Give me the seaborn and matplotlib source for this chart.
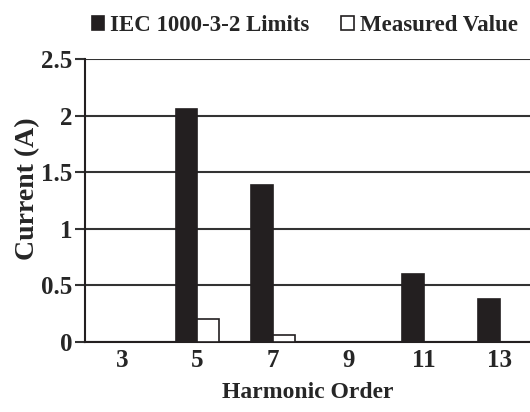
import matplotlib
matplotlib.use("Agg")
import matplotlib.pyplot as plt
import seaborn as sns
import pandas as pd

# Harmonic current data (A)
harmonic_order = ["3", "5", "7", "9", "11", "13"]
iec_limits = [0.0, 2.06, 1.39, 0.0, 0.60, 0.38]
measured_value = [0.0, 0.20, 0.06, 0.0, 0.0, 0.0]
series_names = ["IEC 1000-3-2 Limits", "Measured Value"]

df = pd.DataFrame({
    "Harmonic Order": harmonic_order * 2,
    "Current (A)": iec_limits + measured_value,
    "Series": [series_names[0]] * len(harmonic_order) + [series_names[1]] * len(harmonic_order),
})

sns.set_style("ticks")
plt.rcParams["font.family"] = ["Liberation Serif", "DejaVu Serif"]
plt.rcParams["font.weight"] = "bold"

fig = plt.figure(figsize=(5.3, 4.12), dpi=100)
ax = fig.add_axes([0.16, 0.17, 0.84, 0.687])

palette = {series_names[0]: "#231f20", series_names[1]: "white"}
sns.barplot(data=df, x="Harmonic Order", y="Current (A)", hue="Series",
            order=harmonic_order, hue_order=series_names, palette=palette,
            width=0.58, edgecolor="#231f20", linewidth=1.2, saturation=1,
            ax=ax, legend=False, zorder=3)

ax.set_ylim(0, 2.5)
ax.set_yticks([0, 0.5, 1, 1.5, 2, 2.5])
ax.set_yticklabels(["0", "0.5", "1", "1.5", "2", "2.5"])
ax.set_xlim(-0.49, 5.4)

ax.yaxis.grid(True, color="#333333", linewidth=1.5)
ax.set_axisbelow(True)

for side in ["top", "right"]:
    ax.spines[side].set_visible(False)
for side in ["left", "bottom"]:
    ax.spines[side].set_color("#231f20")
    ax.spines[side].set_linewidth(1.5)

ax.tick_params(axis="y", direction="out", length=7, width=1.5, color="#333333",
               labelsize=18, pad=2)
ax.tick_params(axis="x", length=0, labelsize=18, pad=5)
for lbl in ax.get_xticklabels() + ax.get_yticklabels():
    lbl.set_fontweight("bold")

ax.set_xlabel("Harmonic Order", fontsize=17, fontweight="bold", labelpad=7)
ax.set_ylabel("Current (A)", fontsize=20, fontweight="bold", labelpad=2)
ax.yaxis.set_label_coords(-0.10, 0.54)

handles = [
    matplotlib.patches.Patch(facecolor="#231f20", edgecolor="#231f20", linewidth=1.2),
    matplotlib.patches.Patch(facecolor="white", edgecolor="#231f20", linewidth=1.2),
]
fig.legend(handles, series_names, loc="upper left", bbox_to_anchor=(87 / 530, 0.975),
           ncol=2, frameon=False, borderpad=0.2, borderaxespad=0,
           handlelength=0.55, handleheight=0.55,
           handletextpad=0.25, columnspacing=1.4,
           prop={"size": 16.5, "weight": "bold"})

fig.savefig("out.png", dpi=100)
